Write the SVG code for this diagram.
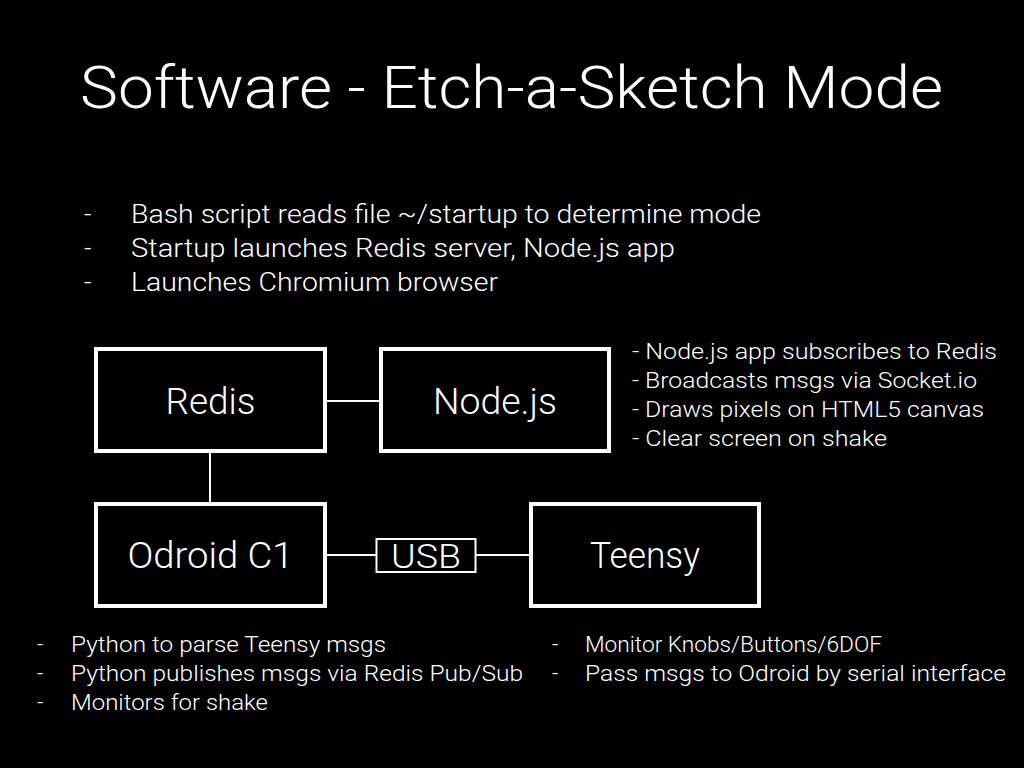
<svg xmlns="http://www.w3.org/2000/svg" width="1024" height="768" viewBox="0 0 1024 768">
<style>
text{fill:#fff;font-family:Roboto,"Liberation Sans",Arial,sans-serif;font-weight:300}
.box{fill:#000;stroke:#fff;stroke-width:4}
.usb{fill:#000;stroke:#fff;stroke-width:2}
.line{stroke:#fff;stroke-width:2;fill:none}
.title{font-size:60px}
.b1{font-size:26px}
.b2{font-size:22px}
.node{font-size:36px;text-anchor:middle}
</style>
<rect width="1024" height="768" fill="#000"/>
<text class="title" x="80" y="108" textLength="863" lengthAdjust="spacingAndGlyphs">Software - Etch-a-Sketch Mode</text>
<g id="intro">
<text class="b1" x="84" y="223">-</text><text class="b1" x="131" y="223" textLength="630" lengthAdjust="spacingAndGlyphs">Bash script reads file ~/startup to determine mode</text>
<text class="b1" x="84" y="257">-</text><text class="b1" x="131" y="257" textLength="544" lengthAdjust="spacingAndGlyphs">Startup launches Redis server, Node.js app</text>
<text class="b1" x="84" y="291">-</text><text class="b1" x="131" y="291" textLength="367" lengthAdjust="spacingAndGlyphs">Launches Chromium browser</text>
</g>
<g id="connectors">
<line class="line" x1="325" y1="401" x2="381" y2="401"/>
<line class="line" x1="210" y1="451" x2="210" y2="504"/>
<line class="line" x1="325" y1="555" x2="376" y2="555"/>
<line class="line" x1="476" y1="555" x2="531" y2="555"/>
</g>
<g id="redis"><rect class="box" x="96" y="349" width="229" height="102"/><text class="node" x="210.5" y="414" textLength="90" lengthAdjust="spacingAndGlyphs">Redis</text></g>
<g id="nodejs"><rect class="box" x="381" y="349" width="228" height="102"/><text class="node" x="495" y="414" textLength="124" lengthAdjust="spacingAndGlyphs">Node.js</text></g>
<g id="odroid"><rect class="box" x="96" y="504" width="229" height="102"/><text class="node" x="210.5" y="568" textLength="166" lengthAdjust="spacingAndGlyphs">Odroid C1</text></g>
<g id="teensy"><rect class="box" x="531" y="504" width="228" height="102"/><text class="node" x="645" y="568" textLength="110" lengthAdjust="spacingAndGlyphs">Teensy</text></g>
<g id="usb"><rect class="usb" x="376.5" y="539" width="99" height="33"/><text class="node" x="426" y="568" style="font-size:34px" textLength="70" lengthAdjust="spacingAndGlyphs">USB</text></g>
<g id="notes-node">
<text class="b2" x="632" y="359" textLength="365" lengthAdjust="spacingAndGlyphs">- Node.js app subscribes to Redis</text>
<text class="b2" x="632" y="388" textLength="345" lengthAdjust="spacingAndGlyphs">- Broadcasts msgs via Socket.io</text>
<text class="b2" x="632" y="417" textLength="352" lengthAdjust="spacingAndGlyphs">- Draws pixels on HTML5 canvas</text>
<text class="b2" x="632" y="446" textLength="255" lengthAdjust="spacingAndGlyphs">- Clear screen on shake</text>
</g>
<g id="notes-odroid">
<text class="b2" x="37" y="652">-</text><text class="b2" x="71" y="652" textLength="315" lengthAdjust="spacingAndGlyphs">Python to parse Teensy msgs</text>
<text class="b2" x="37" y="681">-</text><text class="b2" x="71" y="681" textLength="452" lengthAdjust="spacingAndGlyphs">Python publishes msgs via Redis Pub/Sub</text>
<text class="b2" x="37" y="710">-</text><text class="b2" x="71" y="710" textLength="197" lengthAdjust="spacingAndGlyphs">Monitors for shake</text>
</g>
<g id="notes-teensy">
<text class="b2" x="552" y="652">-</text><text class="b2" x="585" y="652" textLength="297" lengthAdjust="spacingAndGlyphs">Monitor Knobs/Buttons/6DOF</text>
<text class="b2" x="552" y="681">-</text><text class="b2" x="585" y="681" textLength="421" lengthAdjust="spacingAndGlyphs">Pass msgs to Odroid by serial interface</text>
</g>
</svg>
